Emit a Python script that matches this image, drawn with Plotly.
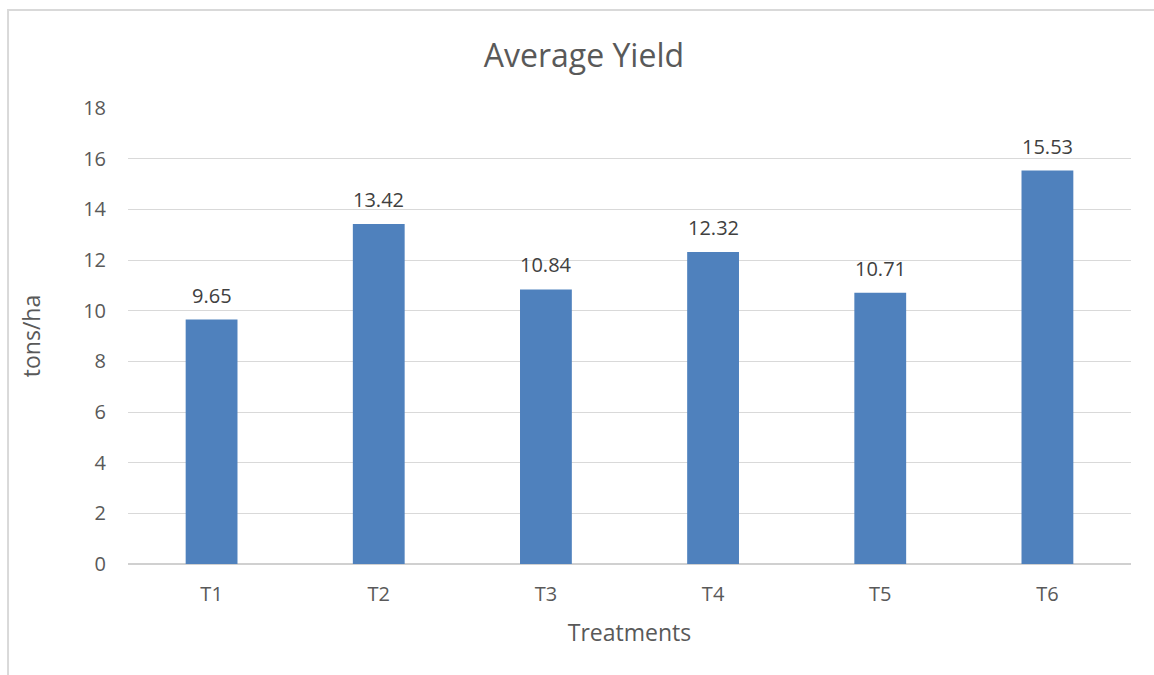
import plotly.graph_objects as go

treatments = ["T1", "T2", "T3", "T4", "T5", "T6"]
yield_tons_ha = [9.65, 13.42, 10.84, 12.32, 10.71, 15.53]
y_ticks = [0, 2, 4, 6, 8, 10, 12, 14, 16, 18]

FONT = "'Open Sans', sans-serif"
TEXT = "#595959"

fig = go.Figure(
    go.Bar(
        x=treatments,
        y=yield_tons_ha,
        marker=dict(color="#4f81bd", line=dict(width=0)),
        hoverinfo="x+y",
    )
)

# value labels sitting above each bar
for cat, val in zip(treatments, yield_tons_ha):
    fig.add_annotation(
        x=cat,
        y=val,
        text=f"{val:.2f}",
        showarrow=False,
        yanchor="bottom",
        yshift=9,
        font=dict(size=20, color="#404040", family=FONT),
    )

fig.update_layout(
    width=1154,
    height=675,
    margin=dict(l=128, r=23, t=108, b=111),
    paper_bgcolor="white",
    plot_bgcolor="white",
    bargap=0.69,
    showlegend=False,
    title=dict(
        text="Average Yield",
        x=0.506,
        xanchor="center",
        y=0.918,
        yanchor="middle",
        font=dict(size=32, color=TEXT, family=FONT),
    ),
    font=dict(family=FONT, color=TEXT),
    xaxis=dict(
        showgrid=False,
        showline=False,
        ticks="",
        ticklabelstandoff=16,
        tickfont=dict(size=20, color=TEXT),
        title=dict(text="Treatments", font=dict(size=23, color=TEXT), standoff=18),
    ),
    yaxis=dict(
        range=[0, 18],
        tickvals=y_ticks,
        showgrid=True,
        gridcolor="#d9d9d9",
        gridwidth=1,
        zeroline=True,
        zerolinecolor="#d0d0d0",
        zerolinewidth=2,
        showline=False,
        ticks="",
        ticklabelstandoff=21,
        tickfont=dict(size=20, color=TEXT),
        title=dict(text="tons/ha", font=dict(size=23, color=TEXT), standoff=36),
    ),
    shapes=[
        dict(
            type="rect",
            xref="paper",
            yref="paper",
            x0=-0.1196,
            x1=1.2,
            y0=-0.4,
            y1=1.2149,
            line=dict(color="#d9d9d9", width=2),
            fillcolor="rgba(0,0,0,0)",
            layer="below",
        )
    ],
)

fig.write_html("out.html")
